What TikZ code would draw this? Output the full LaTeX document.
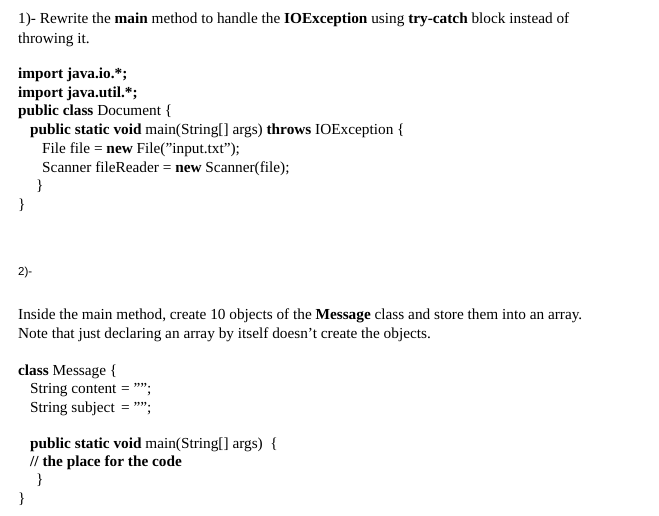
\documentclass[tikz,border=0pt]{standalone}
\usepackage{fontspec}
\setmainfont{Liberation Serif}
\newfontfamily\sansf{Liberation Sans}
\begin{document}
\begin{tikzpicture}[x=1pt,y=-1pt,txt/.style={anchor=base west,inner sep=0pt,font=\fontsize{15.3}{18}\selectfont}]
\useasboundingbox[fill=white] (0,0) rectangle (659,516);
\node[txt] (l1) at (18,24) {1)- Rewrite the \textbf{main} method to handle the \textbf{IOException} using \textbf{try-catch} block instead of};
\node[txt] (l2) at (18,44) {throwing it.};
\node[txt] (l3) at (18,79) {\textbf{import java.io.*;}};
\node[txt] (l4) at (18,98) {\textbf{import java.util.*;}};
\node[txt] (l5) at (18,116) {\textbf{public class} Document \{};
\node[txt] (l6) at (30,135) {\textbf{public static void} main(String[] args) \textbf{throws} IOException \{};
\node[txt] (l7) at (42,154) {File file = \textbf{new} File("input.txt");};
\node[txt] (l8) at (42,172) {Scanner fileReader = \textbf{new} Scanner(file);};
\node[txt] (l9) at (36,191) {\}};
\node[txt] (l10) at (18,209) {\}};
\node[anchor=base west,inner sep=0pt,font=\sansf\fontsize{11.5}{14}\selectfont] (l11) at (18,275) {2)-};
\node[txt] (l12) at (18,319) {Inside the main method, create 10 objects of the \textbf{Message} class and store them into an array.};
\node[txt] (l13) at (18,338) {Note that just declaring an array by itself doesn’t create the objects.};
\node[txt] (l14) at (18,375) {\textbf{class} Message \{};
\node[txt] (l15) at (30,393) {String content};
\node[txt] (l15b) at (121,393) {= "";};
\node[txt] (l16) at (30,412) {String subject};
\node[txt] (l16b) at (121,412) {= "";};
\node[txt] (l17) at (30,448) {\textbf{public static void} main(String[] args)\ \ \{};
\node[txt] (l18) at (30,466) {\textbf{// the place for the code}};
\node[txt] (l19) at (36,484) {\}};
\node[txt] (l20) at (18,503) {\}};
\end{tikzpicture}
\end{document}
